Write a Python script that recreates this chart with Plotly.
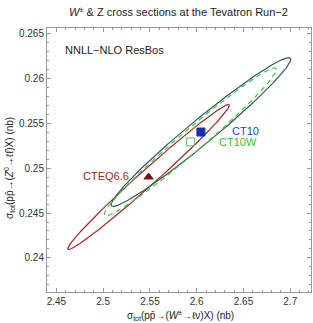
import numpy as np
import plotly.graph_objects as go

# PDF sets and their central predictions (nb)
sets = ["CTEQ6.6", "CT10", "CT10W"]
sigma_W = [2.5485, 2.6045, 2.5932]
sigma_Z = [0.2490, 0.2540, 0.2529]
# ellipse half-extents and correlation
half_W = [0.0865, 0.0960, 0.0921]
half_Z = [0.00806, 0.00826, 0.00822]
corr = [0.989, 0.977, 0.980]

x_ticks = [2.45, 2.5, 2.55, 2.6, 2.65, 2.7]
y_ticks = [0.24, 0.245, 0.25, 0.255, 0.26, 0.265]

line_colors = ["#a5282b", "#2f5a5c", "#3fc63f"]
line_dash = ["solid", "solid", "5px,4px"]
marker_colors = ["#8b0a0a", "#1030b8", "#4ccc4c"]
marker_symbols = ["triangle-up", "square", "square-open"]
label_colors = ["#a0282b", "#2a3fd6", "#33c433"]

fig = go.Figure()
t = np.linspace(0, 2 * np.pi, 500)
for i in range(3):
    phi = np.arccos(corr[i])
    ex = sigma_W[i] + half_W[i] * np.cos(t)
    ey = sigma_Z[i] + half_Z[i] * np.cos(t - phi)
    fig.add_trace(go.Scatter(x=ex, y=ey, mode="lines",
                             line=dict(color=line_colors[i], width=1.2, dash=line_dash[i]),
                             hoverinfo="skip", showlegend=False))
for i in range(3):
    fig.add_trace(go.Scatter(x=[sigma_W[i]], y=[sigma_Z[i]], mode="markers",
                             marker=dict(symbol=marker_symbols[i], color=marker_colors[i], size=8,
                                         line=dict(color=marker_colors[i], width=1)),
                             showlegend=False))

# labels
fig.add_annotation(x=2.5295, y=0.2491, text="CTEQ6.6", showarrow=False,
                   xanchor="right", yanchor="middle", font=dict(color=label_colors[0], size=11))
fig.add_annotation(x=2.6355, y=0.25415, text="CT10", showarrow=False,
                   xanchor="left", yanchor="middle", font=dict(color=label_colors[1], size=11))
fig.add_annotation(x=2.6215, y=0.25290, text="CT10W", showarrow=False,
                   xanchor="left", yanchor="middle", font=dict(color=label_colors[2], size=11))
fig.add_annotation(x=0.06, y=0.915, xref="paper", yref="paper", text="NNLL−NLO ResBos",
                   showarrow=False, xanchor="left", yanchor="middle",
                   font=dict(color="#222", size=11))
# axis titles
fig.add_annotation(x=0.504, y=-0.09, xref="paper", yref="paper",
                   text="σ<sub>tot</sub>(pp̄→(<i>W</i><sup>±</sup>→ℓν)X) (nb)",
                   showarrow=False, xanchor="center", yanchor="middle",
                   font=dict(size=10, color="#222"))
fig.add_annotation(x=-0.14, y=0.47, xref="paper", yref="paper", textangle=-90,
                   text="σ<sub>tot</sub>(pp̄→(<i>Z</i><sup>0</sup>→ℓℓ̄)X) (nb)",
                   showarrow=False, xanchor="center", yanchor="middle",
                   font=dict(size=10, color="#222"))

axis_common = dict(showgrid=False, zeroline=False, showline=True, linecolor="#9a9a9a",
                   linewidth=1, mirror="ticks", ticks="inside", ticklen=4, tickcolor="#9a9a9a",
                   tickfont=dict(size=10, color="#333"))
fig.update_xaxes(range=[2.4399, 2.7222], tickvals=x_ticks,
                 ticktext=[f"{v:g}" for v in x_ticks],
                 minor=dict(ticks="inside", dtick=0.01, ticklen=2, tickcolor="#9a9a9a"),
                 **axis_common)
fig.update_yaxes(range=[0.23622, 0.26556], tickvals=y_ticks,
                 ticktext=[f"{v:g}" for v in y_ticks],
                 minor=dict(ticks="inside", dtick=0.001, ticklen=2, tickcolor="#9a9a9a"),
                 **axis_common)
fig.update_layout(width=313, height=323, margin=dict(l=47, r=2, t=28, b=31),
                  plot_bgcolor="white", paper_bgcolor="white",
                  font=dict(family="Liberation Sans, Arial, sans-serif"),
                  title=dict(text="<i>W</i><sup>±</sup> & Z cross sections at the Tevatron Run−2",
                             x=0.57, xanchor="center", y=0.962, yanchor="middle",
                             font=dict(size=11, color="#222")))
fig.write_html("out.html", config={"displayModeBar": False, "staticPlot": True},
               post_script="document.body.style.margin='0';")
